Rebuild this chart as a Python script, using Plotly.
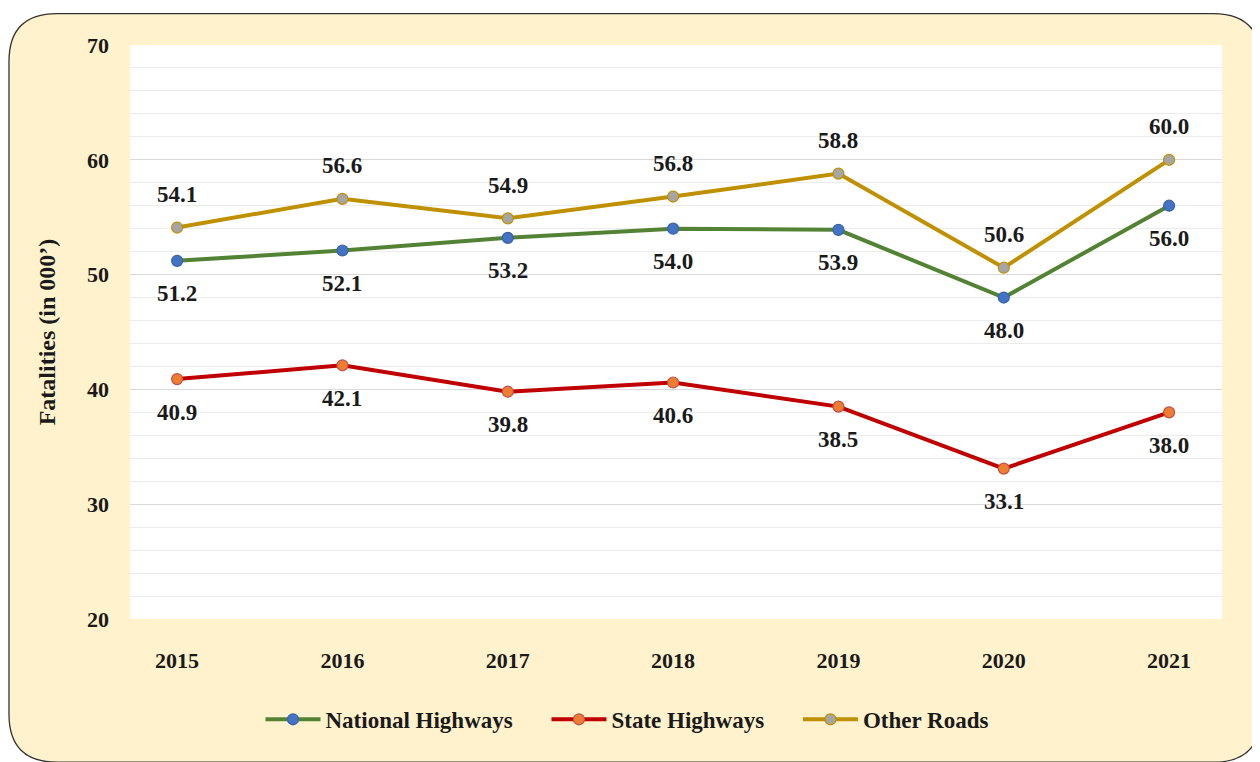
import plotly.graph_objects as go

years = [2015, 2016, 2017, 2018, 2019, 2020, 2021]
national_highways = [51.2, 52.1, 53.2, 54.0, 53.9, 48.0, 56.0]
state_highways = [40.9, 42.1, 39.8, 40.6, 38.5, 33.1, 38.0]
other_roads = [54.1, 56.6, 54.9, 56.8, 58.8, 50.6, 60.0]
legend_names = ["National Highways", "State Highways", "Other Roads"]

# page body has an 8px margin; figure occupies screen (8,8)-(1260,762)
OFF = 8
W, H = 1260 - OFF, 762 - OFF
ML, MT = 130 - OFF, 44.5 - OFF
MR = W - (1222 - OFF)
MB = H - (619.5 - OFF)
PW, PH = W - ML - MR, H - MT - MB

FONT = "Liberation Serif"
TXT = "#1a1a1a"

def px2paper(x, y):
    x, y = x - OFF, y - OFF
    return ((x - ML) / PW, (H - MB - y) / PH)

def rounded_path(x0, y0, x1, y1, r):
    def P(x, y):
        a, b = px2paper(x, y)
        return f"{a:.5f},{b:.5f}"
    s = f"M {P(x0 + r, y0)} L {P(x1 - r, y0)} Q {P(x1, y0)} {P(x1, y0 + r)} "
    s += f"L {P(x1, y1 - r)} Q {P(x1, y1)} {P(x1 - r, y1)} "
    s += f"L {P(x0 + r, y1)} Q {P(x0, y1)} {P(x0, y1 - r)} "
    s += f"L {P(x0, y0 + r)} Q {P(x0, y0)} {P(x0 + r, y0)} Z"
    return s

series = [
    (legend_names[0], national_highways, "#548235", "#4472c4", "#3a62a8", -1),
    (legend_names[1], state_highways, "#c00000", "#ed7d31", "#c0504d", -1),
    (legend_names[2], other_roads, "#bf9000", "#a5a5a5", "#bf9000", 1),
]

fig = go.Figure()
annotations = []
pad = "\u00a0" * 5
for i, (name, vals, lc, mc, mlc, side) in enumerate(series):
    fig.add_trace(go.Scatter(
        x=years, y=vals, name=name + (pad if i < 2 else ""), mode="lines+markers",
        line=dict(color=lc, width=4),
        marker=dict(color=mc, size=11, line=dict(color=mlc, width=1.2)),
    ))
    for x, v in zip(years, vals):
        annotations.append(dict(
            x=x, y=v, text=f"{v:.1f}", showarrow=False,
            yshift=33 * side, xref="x", yref="y",
            font=dict(family=FONT, size=23, color=TXT, weight="bold"),
        ))

fig.update_layout(
    width=W, height=H,
    margin=dict(l=ML, r=MR, t=MT, b=MB),
    paper_bgcolor="white",
    plot_bgcolor="white",
    showlegend=True,
    legend=dict(
        orientation="h", x=(627 - 130) / 1092, xanchor="center",
        y=(619.5 - 720) / 575, yanchor="middle",
        font=dict(family=FONT, size=23, color=TXT, weight="bold"),
        bgcolor="rgba(0,0,0,0)", itemwidth=55,
        traceorder="normal",
    ),
    annotations=annotations,
    shapes=[
        dict(
            type="path", xref="paper", yref="paper",
            path=rounded_path(9, 13, 1261, 763, 48),
            fillcolor="#fff2cc", line=dict(color="#333333", width=1.3),
            layer="below",
        ),
        dict(
            type="rect", xref="paper", yref="paper", x0=0, x1=1, y0=0, y1=1,
            fillcolor="white", line=dict(width=0), layer="below",
        ),
    ],
    xaxis=dict(
        range=[2014.715, 2021.32],
        tickmode="array", tickvals=years, ticktext=[str(y) for y in years],
        showgrid=False, zeroline=False, showline=False,
        tickfont=dict(family=FONT, size=22, color=TXT, weight="bold"),
        ticks="", ticklabelstandoff=26,
    ),
    yaxis=dict(
        range=[20, 70],
        tickmode="linear", tick0=20, dtick=10,
        showgrid=True, gridcolor="#d9d9d9", gridwidth=1,
        minor=dict(tickmode="linear", tick0=20, dtick=2, showgrid=True,
                   gridcolor="#ececec", gridwidth=1),
        zeroline=False, showline=False,
        tickfont=dict(family=FONT, size=22, color=TXT, weight="bold"),
        ticks="", ticklabelstandoff=20,
        title=dict(text="Fatalities (in 000’)", standoff=24,
                   font=dict(family=FONT, size=24, color=TXT, weight="bold")),
    ),
)

fig.write_html("out.html")
